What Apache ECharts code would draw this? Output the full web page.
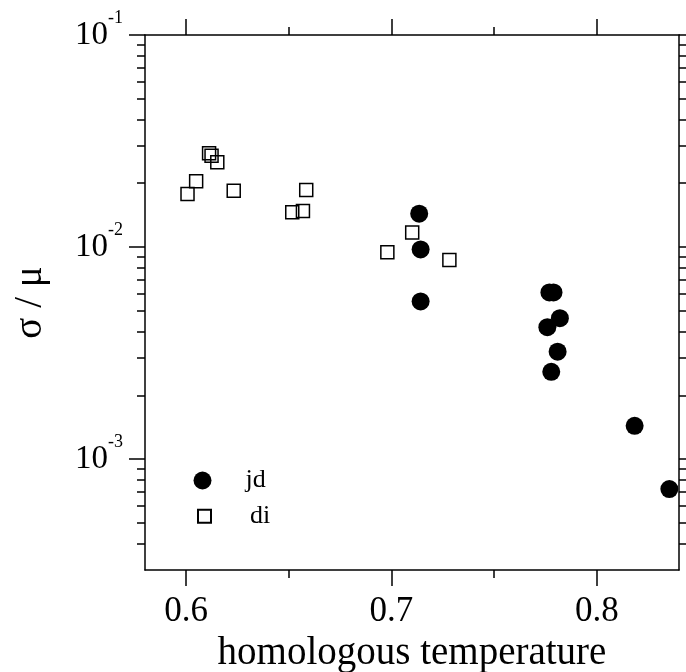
<!DOCTYPE html>
<html><head><meta charset="utf-8">
<script src="https://cdn.jsdelivr.net/npm/echarts@6/dist/echarts.min.js"></script>
<style>html,body{margin:0;padding:0;background:#fff}#c{width:686px;height:672px}</style>
</head><body><div id="c"></div>
<script>
// jd series (filled circles)
const jdX = [0.7135, 0.7142, 0.7142, 0.7769, 0.7789, 0.7820, 0.7759, 0.7809, 0.7778, 0.8184, 0.8353];
const jdY = [0.01436, 0.00975, 0.00554, 0.00611, 0.00611, 0.00462, 0.00419, 0.00321, 0.00258, 0.001436, 0.000722];
// di series (open squares)
const diX = [0.6007, 0.6049, 0.6112, 0.6124, 0.6152, 0.6232, 0.6517, 0.6569, 0.6585, 0.6980, 0.7101, 0.7282];
const diY = [0.01778, 0.02043, 0.02767, 0.02696, 0.02509, 0.01843, 0.01458, 0.01479, 0.01857, 0.00944, 0.01171, 0.00870];

const xMajorTicks = [0.6, 0.7, 0.8];
const xMinorTicks = [0.65, 0.75];
const yMajorTicks = [0.001, 0.01, 0.1];
const yMinorTicks = [0.0004, 0.0005, 0.0006, 0.0007, 0.0008, 0.0009,
                     0.002, 0.003, 0.004, 0.005, 0.006, 0.007, 0.008, 0.009,
                     0.02, 0.03, 0.04, 0.05, 0.06, 0.07, 0.08, 0.09];

const FONT = '"Liberation Serif", "Times New Roman", serif';
const X_MIN = 0.58, X_MAX = 0.84, Y_MIN = 0.0003, Y_MAX = 0.1;
const LW = 1.5;

function xAx(pos, ticks, len, showLine, labels, extra) {
  return Object.assign({
    type: 'value', position: pos, min: X_MIN, max: X_MAX, gridIndex: 0,
    axisLine: {show: showLine, onZero: false, lineStyle: {color: '#000', width: LW}},
    axisTick: {show: true, inside: false, length: len, customValues: ticks, lineStyle: {color: '#000', width: LW}},
    axisLabel: labels ? {show: true, customValues: ticks, margin: 24, fontSize: 35, fontFamily: FONT, color: '#000',
      formatter: v => v.toFixed(1)} : {show: false},
    splitLine: {show: false}
  }, extra || {});
}
function yAx(pos, ticks, len, showLine, labels, extra) {
  return Object.assign({
    type: 'log', logBase: 10, position: pos, min: Y_MIN, max: Y_MAX, gridIndex: 0,
    axisLine: {show: showLine, onZero: false, lineStyle: {color: '#000', width: LW}},
    axisTick: {show: true, inside: false, length: len, customValues: ticks, lineStyle: {color: '#000', width: LW}},
    axisLabel: labels ? {show: true, customValues: ticks, margin: 22, color: '#000',
      formatter: v => '{b|10}{s|' + Math.round(Math.log10(v)) + '}',
      rich: {
        b: {fontSize: 33, fontFamily: FONT, color: '#000'},
        s: {fontSize: 18, fontFamily: FONT, color: '#000', padding: [0, 0, 34, 0]}
      }} : {show: false},
    splitLine: {show: false}, minorTick: {show: false}
  }, extra || {});
}

const chart = echarts.init(document.getElementById('c'), null, {renderer: 'canvas'});
chart.setOption({
  animation: false,
  backgroundColor: '#fff',
  grid: {left: 145, top: 35, right: 7, bottom: 102, containLabel: false, outerBoundsMode: 'none'},
  xAxis: [
    xAx('bottom', xMajorTicks, 16, true, true, {
      name: 'homologous temperature', nameLocation: 'middle', nameGap: 64, nameMoveOverlap: false,
      nameTextStyle: {fontSize: 39, fontFamily: FONT, color: '#000'}
    }),
    xAx('bottom', xMinorTicks, 8, false, false),
    xAx('top', xMajorTicks, 16, true, false),
    xAx('top', xMinorTicks, 8, false, false)
  ],
  yAxis: [
    yAx('left', yMajorTicks, 16, true, true, {
      name: 'σ / μ', nameLocation: 'middle', nameGap: 95, nameMoveOverlap: false,
      nameTextStyle: {fontSize: 39, fontFamily: FONT, color: '#000'}
    }),
    yAx('left', yMinorTicks, 8, false, false),
    yAx('right', yMajorTicks, 16, true, false),
    yAx('right', yMinorTicks, 8, false, false)
  ],
  legend: [
    {data: ['jd'], orient: 'vertical', left: 193.5, top: 467.5, padding: 0, itemWidth: 18, itemHeight: 18,
     textStyle: {fontSize: 26, lineHeight: 26, fontFamily: FONT, color: '#000', padding: [0, 0, 0, 29]}},
    {data: ['di'], orient: 'vertical', left: 197, top: 503.3, padding: 0, itemWidth: 13, itemHeight: 13,
     textStyle: {fontSize: 26, lineHeight: 26, fontFamily: FONT, color: '#000', padding: [0, 0, 0, 34]}}
  ],
  series: [
    {name: 'jd', type: 'scatter', xAxisIndex: 0, yAxisIndex: 0, symbol: 'circle', symbolSize: 18,
     itemStyle: {color: '#000', opacity: 1},
     data: jdX.map((x, i) => [x, jdY[i]])},
    {name: 'di', type: 'scatter', xAxisIndex: 0, yAxisIndex: 0, symbol: 'rect', symbolSize: 13,
     itemStyle: {color: 'rgba(0,0,0,0)', borderColor: '#000', borderWidth: LW, opacity: 1},
     data: diX.map((x, i) => [x, diY[i]])}
  ]
});
</script></body></html>
